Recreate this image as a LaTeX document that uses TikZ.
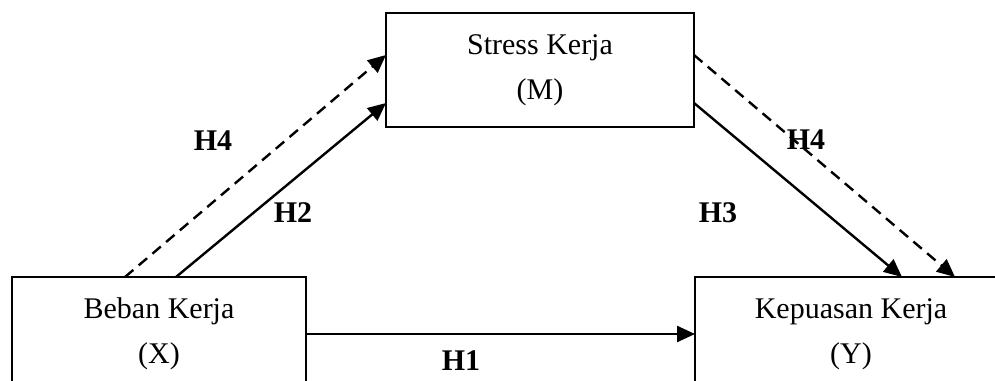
\documentclass[tikz,border=0pt]{standalone}
\usepackage{fontspec}
\setmainfont{Liberation Serif}
\usetikzlibrary{arrows.meta}
\begin{document}
\begin{tikzpicture}[x=1pt,y=-1pt,
  box/.style={draw, line width=2.6pt, rectangle, outer sep=0pt, inner sep=0pt, align=center, font=\fontsize{30}{45}\selectfont, minimum height=114pt},
  conn/.style={line width=2.4pt, -{Triangle[length=18pt,width=16pt]}},
  dashedconn/.style={conn, dash pattern=on 11pt off 7pt},
  hyp/.style={font=\fontsize{30}{36}\selectfont\bfseries, inner sep=0pt}]
\useasboundingbox (0,0) rectangle (995,380);
\clip (0,0) rectangle (995,380);
\node[box, minimum width=308pt] (M) at (540,70) {Stress Kerja\\(M)};
\node[box, minimum width=294pt] (X) at (159,334) {Beban Kerja\\(X)};
\node[box, minimum width=312pt] (Y) at (851,334) {Kepuasan Kerja\\(Y)};
% H1
\draw[conn] (X.east) -- (X.east -| Y.west);
% left side
\draw[dashedconn] ([xshift=113pt]X.north west) -- ([yshift=15pt]M.west);
\draw[conn] ([xshift=164pt]X.north west) -- ([yshift=-33pt]M.west);
% right side
\draw[dashedconn] ([yshift=15pt]M.east) -- ([xshift=260pt]Y.north west);
\draw[conn] ([yshift=-33pt]M.east) -- ([xshift=207pt]Y.north west);
% labels
\node[hyp] (h4a) at (213,141) {H4};
\node[hyp] (h2) at (293,213) {H2};
\node[hyp] (h4b) at (806,140) {H4};
\node[hyp] (h3) at (718,213) {H3};
\node[hyp] (h1) at (461,361) {H1};
\end{tikzpicture}
\end{document}
